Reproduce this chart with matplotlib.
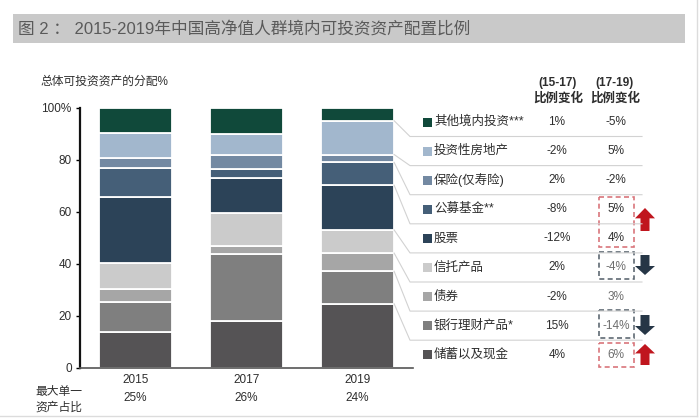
import numpy as np
import matplotlib
matplotlib.use("Agg")
import matplotlib.pyplot as plt
import matplotlib.transforms as mtransforms
from matplotlib.patches import Rectangle, Polygon


plt.rcParams['font.family'] = ['Liberation Sans', 'Noto Sans CJK SC', 'DejaVu Sans']

# -------------------------------------------------
# Data (bottom -> top of each bar)
# -------------------------------------------------

years = ["2015", "2017", "2019"]

categories = ["储蓄以及现金", "银行理财产品*", "债券", "信托产品", "股票",
              "公募基金**", "保险(仅寿险)", "投资性房地产", "其他境内投资***"]

share_2015 = [13.7, 11.6, 5.1, 10.1, 25.3, 11.3, 3.5, 9.8, 9.6]
share_2017 = [17.9, 26.1, 2.8, 12.8, 13.5, 3.4, 5.4, 8.1, 10.0]
share_2019 = [24.7, 12.5, 7.0, 8.9, 17.2, 8.8, 3.0, 13.0, 4.9]

change_15_17 = ["4%", "15%", "-2%", "2%", "-12%", "-8%", "2%", "-2%", "1%"]
change_17_19 = ["6%", "-14%", "3%", "-4%", "4%", "5%", "-2%", "5%", "-5%"]

largest_share = ["25%", "26%", "24%"]

colors = ["#555355", "#7f7f7f", "#a6a6a6", "#cbcbcb", "#2c4358",
          "#455f78", "#7389a2", "#a2b7cd", "#10493a"]

TEXT = "#2e2e2e"
RED = "#c0161e"
NAVY = "#263646"


fig = plt.figure(figsize=(7, 4.18), dpi=100)

# -------------------------------------------------
# Stacked bars
# -------------------------------------------------

ax = fig.add_axes([80 / 700, 50 / 418, 333 / 700, 260 / 418])

data = np.array([share_2015, share_2017, share_2019])
x = np.arange(len(years))
width = 0.66

bottom = np.zeros(len(years))
for i, cat in enumerate(categories):
    ax.bar(x, data[:, i], width, bottom=bottom, color=colors[i],
           edgecolor="white", linewidth=1.3)
    bottom += data[:, i]

ax.set_xlim(-0.5, 2.5)
ax.set_ylim(0, 100)

ax.set_yticks([0, 20, 40, 60, 80, 100])
ax.set_yticklabels(["0", "20", "40", "60", "80", "100%"])
ax.set_xticks(x)
ax.set_xticklabels(years)

ax.tick_params(axis="y", length=3, width=1, labelsize=8.5, labelcolor=TEXT, pad=3)
ax.tick_params(axis="x", length=0, labelsize=8.5, labelcolor=TEXT, pad=4)

for side in ["top", "right"]:
    ax.spines[side].set_visible(False)
ax.spines["left"].set_linewidth(1.6)
ax.spines["left"].set_color("#111111")
ax.spines["bottom"].set_linewidth(1.2)
ax.spines["bottom"].set_color("#555555")

# -------------------------------------------------
# Overlay in pixel coordinates
# -------------------------------------------------

ov = fig.add_axes([0, 0, 1, 1])
ov.set_xlim(0, 700)
ov.set_ylim(418, 0)
ov.axis("off")
ov.patch.set_visible(False)

# title bar
ov.add_patch(Rectangle((13, 14), 672, 29, color="#c9c9c9", lw=0))
ov.text(18, 29, "图 2 ： 2015-2019年中国高净值人群境内可投资资产配置比例",
        fontsize=12, color="#5a5a5a", va="center", ha="left")

# frame lines
ov.plot([697, 697], [0, 416], color="#dcdcdc", lw=1)
ov.plot([0, 697], [416, 416], color="#dcdcdc", lw=1)

ov.text(40, 82, "总体可投资资产的分配%", fontsize=8.5, color=TEXT,
        va="center", ha="left")

# largest single asset row
ov.text(35, 392, "最大单一", fontsize=8.5, color=TEXT, va="center", ha="left")
ov.text(35, 408, "资产占比", fontsize=8.5, color=TEXT, va="center", ha="left")

mixed = mtransforms.blended_transform_factory(ax.transData, ov.transData)
for xi, s in zip(x, largest_share):
    ov.text(xi, 398, s, fontsize=8.5, color=TEXT, ha="center", va="center",
            transform=mixed)

# headers
for cx, h in [(558, "(15-17)"), (615, "(17-19)")]:
    ov.text(cx, 83, h, fontsize=8.5, color=TEXT, ha="center", va="center",
            fontweight="bold")
    ov.text(cx, 98, "比例变化", fontsize=9, color=TEXT, ha="center",
            va="center", fontweight="bold")

# -------------------------------------------------
# Legend rows + connectors
# -------------------------------------------------

rows = list(range(len(categories)))[::-1]    # top row = last category
row_y = [122 + 29.1 * k for k in range(len(categories))]

to_px = ax.transData + ov.transData.inverted()
bar_right = x[-1] + width / 2
tops = np.cumsum(share_2019)[:-1][::-1]

for k, i in enumerate(rows):
    y = row_y[k]
    ov.add_patch(Rectangle((423, y - 4.5), 9, 9, color=colors[i], lw=0))
    ov.text(434, y, categories[i], fontsize=9, color=TEXT,
            ha="left", va="center")
    ov.text(557, y, change_15_17[i], fontsize=8.5, color=TEXT,
            ha="center", va="center")
    c2 = TEXT if k < 5 else "#6e6e6e"
    ov.text(616, y, change_17_19[i], fontsize=8.5, color=c2,
            ha="center", va="center")

    if k < len(tops):
        sep = y + 14.5
        px, py = to_px.transform((bar_right, tops[k]))
        ov.plot([px, 410, 642], [py, sep, sep], color="#d2d2d2", lw=0.8)

# -------------------------------------------------
# Highlight boxes and arrows
# -------------------------------------------------

boxes = [(197, 247, "#d9767c"), (252, 279, "#5f6a73"),
         (310, 338, "#5f6a73"), (343, 367, "#d9767c")]
for y0, y1, c in boxes:
    ov.add_patch(Rectangle((599, y0), 35, y1 - y0, fill=False, edgecolor=c,
                           lw=1.2, linestyle=(0, (3, 2))))


def arrow(cx, y0, y1, up, color):
    hw, sw = 10, 4.5
    h = y1 - y0
    if up:
        pts = [(cx, y0), (cx + hw, y0 + h * 0.45), (cx + sw, y0 + h * 0.45),
               (cx + sw, y1), (cx - sw, y1), (cx - sw, y0 + h * 0.45),
               (cx - hw, y0 + h * 0.45)]
    else:
        pts = [(cx, y1), (cx + hw, y1 - h * 0.45), (cx + sw, y1 - h * 0.45),
               (cx + sw, y0), (cx - sw, y0), (cx - sw, y1 - h * 0.45),
               (cx - hw, y1 - h * 0.45)]
    ov.add_patch(Polygon(pts, closed=True, color=color, lw=0))


arrow(645, 208, 231, True, RED)
arrow(645, 255, 275, False, NAVY)
arrow(645, 315, 335, False, NAVY)
arrow(645, 344, 365, True, RED)

fig.savefig("out.png", dpi=100)
